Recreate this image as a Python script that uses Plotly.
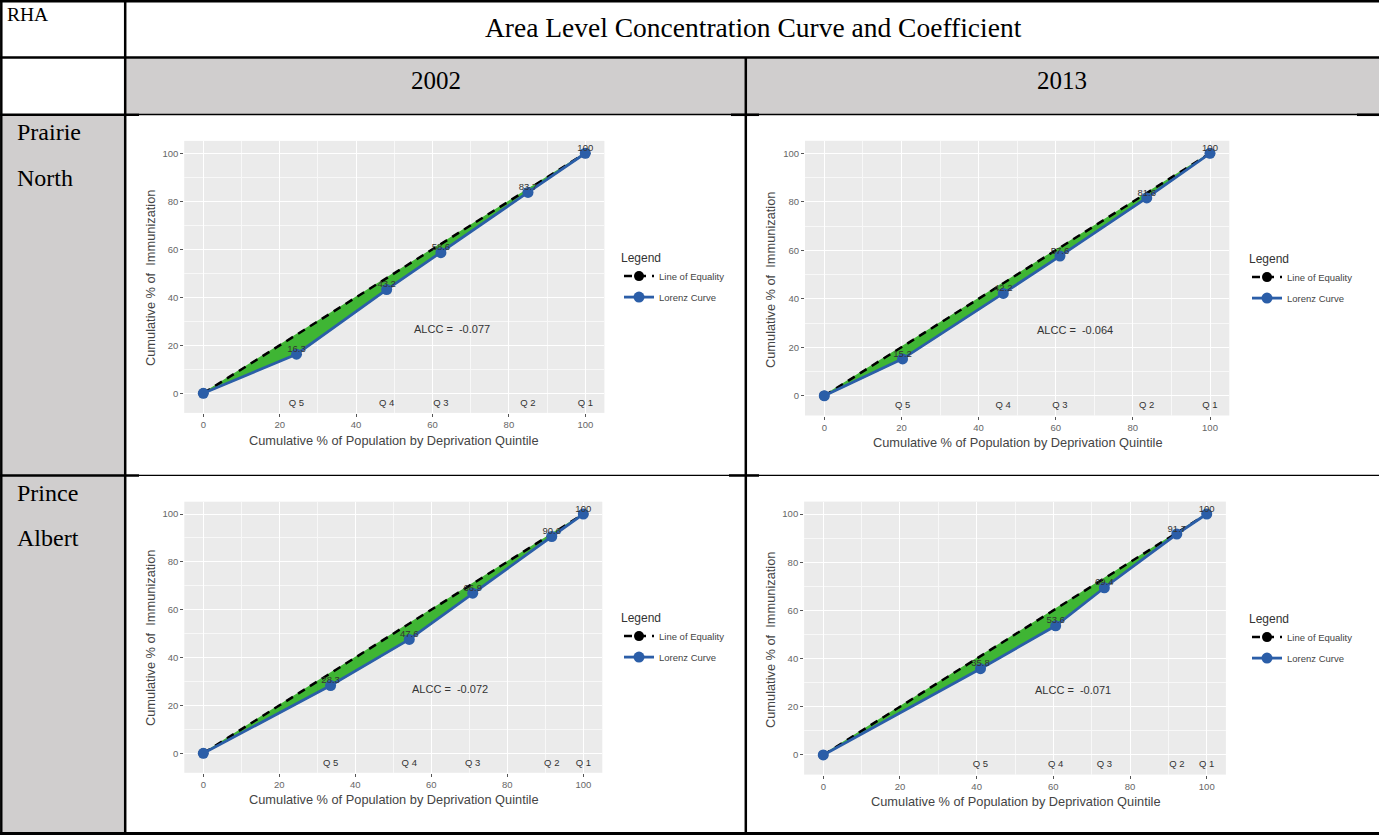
import plotly.graph_objects as go

W, H = 1379, 836

# ---------------- data ----------------
table_title = "Area Level Concentration Curve and Coefficient"
col_header = "RHA"
years = ["2002", "2013"]
regions = ["Prairie North", "Prince Albert"]
quintiles = ["Q 5", "Q 4", "Q 3", "Q 2", "Q 1"]

# cumulative % of population (x) and cumulative % of immunization (y), origin then Q5..Q1
pn2002_x = [0, 24.4, 48.0, 62.2, 85.0, 100]
pn2002_y = [0, 16.3, 43.2, 58.6, 83.7, 100]
pn2013_x = [0, 20.3, 46.4, 61.1, 83.6, 100]
pn2013_y = [0, 15.2, 42.2, 57.6, 81.6, 100]
pa2002_x = [0, 33.5, 54.2, 70.9, 91.7, 100]
pa2002_y = [0, 28.3, 47.6, 66.9, 90.6, 100]
pa2013_x = [0, 41.0, 60.6, 73.3, 92.2, 100]
pa2013_y = [0, 35.8, 53.6, 69.4, 91.7, 100]
alcc = ["-0.077", "-0.064", "-0.072", "-0.071"]
equality = [0, 100]
x_ticks = [0, 20, 40, 60, 80, 100]
y_ticks = [0, 20, 40, 60, 80, 100]

panels = [(pn2002_x, pn2002_y), (pn2013_x, pn2013_y), (pa2002_x, pa2002_y), (pa2013_x, pa2013_y)]

# ---------------- style / layout constants ----------------
GREEN = "#3fb534"
BLUE = "#2b5ea8"
SERIF = "Liberation Serif, Times New Roman, serif"
SANS = "Liberation Sans, Arial, sans-serif"
GREY_FILL = "#d0cece"

# panel pixel boxes (left, right, top, bottom)
boxes = [(184.2, 604.4, 140.9, 412.9),
         (805.0, 1229.3, 140.8, 415.5),
         (184.3, 602.3, 501.7, 772.8),
         (804.1, 1225.9, 501.6, 774.6)]
# axis title centres (x-title, y-title) in px
xtitle_pos = [(394, 440), (1018, 442), (394, 799), (1016, 801)]
ytitle_pos = [(150, 278), (770, 280), (150, 638), (770, 640)]
legend_pos = [(619, 246), (1247, 247), (619, 606), (1247, 607)]
alcc_pos = (65, 27)
q_label_y = -4.2

def px(x):
    return x / W

def py(y):
    return 1 - y / H

fig = go.Figure()
annotations = []
shapes = []

for i, (xs, ys) in enumerate(panels):
    n = "" if i == 0 else str(i + 1)
    xa, ya = "x" + n, "y" + n
    leg = "legend" + n
    # filled area between equality line and Lorenz curve
    fig.add_trace(go.Scatter(
        x=xs + xs[::-1], y=ys + xs[::-1], mode="lines", fill="toself",
        fillcolor=GREEN, line=dict(width=1.5, color=GREEN), hoverinfo="skip",
        showlegend=False, xaxis=xa, yaxis=ya))
    fig.add_trace(go.Scatter(
        x=equality, y=equality, mode="lines+markers", name="Line of Equality",
        line=dict(color="black", width=2.5, dash="8px,6px"),
        marker=dict(color="black", size=10), legend=leg, legendgroup="eq" + n,
        xaxis=xa, yaxis=ya))
    fig.add_trace(go.Scatter(
        x=xs, y=ys, mode="lines+markers", name="Lorenz Curve",
        line=dict(color=BLUE, width=2.8), marker=dict(color=BLUE, size=11),
        legend=leg, legendgroup="lc" + n, xaxis=xa, yaxis=ya))
    # value labels
    fig.add_trace(go.Scatter(
        x=xs[1:], y=ys[1:], mode="text", text=[f"{v:g}" for v in ys[1:]],
        textposition="top center", textfont=dict(family=SANS, size=9.5, color="#333"),
        showlegend=False, hoverinfo="skip", xaxis=xa, yaxis=ya))
    # quintile labels
    fig.add_trace(go.Scatter(
        x=xs[1:], y=[q_label_y] * len(quintiles), mode="text", text=quintiles,
        textposition="middle center", textfont=dict(family=SANS, size=9.5, color="#333"),
        showlegend=False, hoverinfo="skip", xaxis=xa, yaxis=ya))

    l, r, t, b = boxes[i]
    axis_common = dict(
        showgrid=True, gridcolor="white", gridwidth=1.2, zeroline=False,
        ticks="outside", ticklen=3, tickwidth=1, tickcolor="#555",
        tickfont=dict(family=SANS, size=9.5, color="#666"),
        minor=dict(dtick=10, tick0=0, showgrid=True, gridcolor="#f8f8f8", gridwidth=0.8),
        showline=False, fixedrange=True)
    fig.layout["xaxis" + n] = dict(axis_common, domain=[px(l), px(r)], range=[-5, 105],
                                   tickvals=x_ticks, anchor=ya)
    fig.layout["yaxis" + n] = dict(axis_common, domain=[py(b), py(t)], range=[-8.15, 105.15],
                                   tickvals=y_ticks, anchor=xa)

    annotations.append(dict(x=alcc_pos[0], y=alcc_pos[1], xref=xa, yref=ya,
                            text="ALCC =  " + alcc[i], showarrow=False,
                            font=dict(family=SANS, size=11, color="#333")))
    tx, ty = xtitle_pos[i]
    annotations.append(dict(x=px(tx), y=py(ty), xref="paper", yref="paper",
                            text="Cumulative % of Population by Deprivation Quintile",
                            showarrow=False, xanchor="center", yanchor="middle",
                            font=dict(family=SANS, size=12.8, color="#444")))
    tx, ty = ytitle_pos[i]
    annotations.append(dict(x=px(tx), y=py(ty), xref="paper", yref="paper",
                            text="Cumulative % of\u00a0 Immunization", textangle=-90,
                            showarrow=False, xanchor="center", yanchor="middle",
                            font=dict(family=SANS, size=12.8, color="#444")))
    lx, ly = legend_pos[i]
    fig.layout[leg] = dict(x=px(lx), y=py(ly), xanchor="left", yanchor="top",
                           xref="paper", yref="paper",
                           bgcolor="rgba(0,0,0,0)", tracegroupgap=2,
                           title=dict(text="Legend", font=dict(family=SANS, size=12, color="#333")),
                           font=dict(family=SANS, size=9.5, color="#444"))

# ---------------- table decoration ----------------
def rect(x0, y0, x1, y1, color):
    shapes.append(dict(type="rect", xref="paper", yref="paper", x0=px(x0), x1=px(x1),
                       y0=py(y1), y1=py(y0), fillcolor=color, line=dict(width=0), layer="below"))

def hline(y, x0, x1, w):
    shapes.append(dict(type="line", xref="paper", yref="paper", x0=px(x0), x1=px(x1),
                       y0=py(y), y1=py(y), line=dict(color="black", width=w)))

def vline(x, y0, y1, w):
    shapes.append(dict(type="line", xref="paper", yref="paper", x0=px(x), x1=px(x),
                       y0=py(y0), y1=py(y1), line=dict(color="black", width=w)))

rect(126, 58.5, 1379, 114, GREY_FILL)
rect(2.5, 115.5, 124, 832, GREY_FILL)

hline(1.2, 0, 1379, 2.5)
hline(57.6, 0, 1379, 2.5)
hline(114.8, 0, 139, 2.5)
hline(114.5, 139, 1379, 1.3)
hline(114.8, 731, 759, 2.5)
hline(114.8, 1357, 1379, 2.5)
hline(475.5, 0, 139, 2.5)
hline(475.3, 139, 1379, 1.3)
hline(475.5, 729, 759, 2.5)
hline(833.5, 0, 1379, 3)
vline(1.3, 0, 835, 2.5)
vline(125.2, 0, 835, 2.5)
vline(745.8, 57, 835, 2.5)

annotations.append(dict(x=px(5), y=py(14), xref="paper", yref="paper", text=col_header,
                        showarrow=False, xanchor="left", yanchor="middle",
                        font=dict(family=SERIF, size=19.5, color="black")))
annotations.append(dict(x=px(753), y=py(28), xref="paper", yref="paper", text=table_title,
                        showarrow=False, xanchor="center", yanchor="middle",
                        font=dict(family=SERIF, size=27.5, color="black")))
for yr, cx in zip(years, [436, 1062]):
    annotations.append(dict(x=px(cx), y=py(80), xref="paper", yref="paper", text=yr,
                            showarrow=False, xanchor="center", yanchor="middle",
                            font=dict(family=SERIF, size=25, color="black")))
for reg, (y1, y2) in zip(regions, [(132, 178), (493, 538)]):
    w1, w2 = reg.split(" ")
    for word, yy in ((w1, y1), (w2, y2)):
        annotations.append(dict(x=px(15), y=py(yy), xref="paper", yref="paper", text=word,
                                showarrow=False, xanchor="left", yanchor="middle",
                                font=dict(family=SERIF, size=24, color="black")))

fig.update_layout(
    width=W, height=H, margin=dict(l=0, r=0, t=0, b=0),
    paper_bgcolor="white", plot_bgcolor="#ebebeb",
    annotations=annotations, shapes=shapes, hovermode=False,
)

fig.write_html("out.html")
